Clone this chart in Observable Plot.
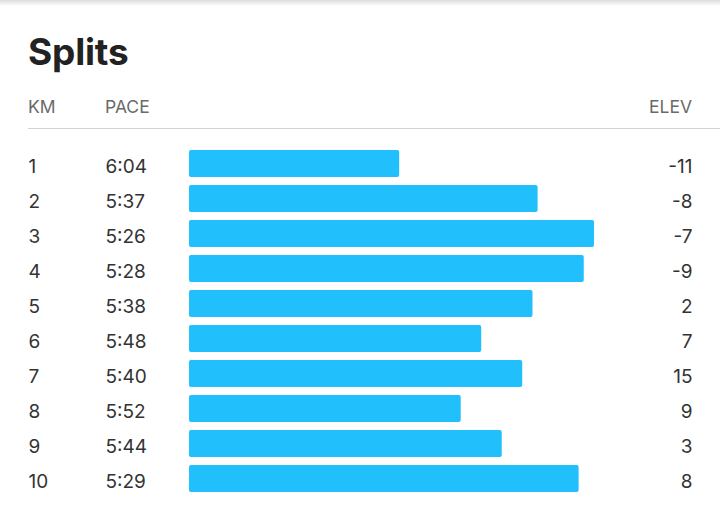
<!DOCTYPE html>
<html>
<head>
<meta charset="utf-8">
<script src="https://cdn.jsdelivr.net/npm/d3@7"></script>
<script src="https://cdn.jsdelivr.net/npm/@observablehq/plot@0.6"></script>
<style>
  html, body { margin: 0; padding: 0; background: #fff; }
  body { width: 720px; height: 526px; overflow: hidden; font-family: Inter, "Noto Sans", sans-serif; }
  #head { position: relative; height: 130px; }
  #shadow { position: absolute; left: 0; top: 0; width: 720px; height: 6px;
            background: linear-gradient(#dcdcdc, rgba(255,255,255,0)); }
  #title { position: absolute; left: 28px; top: 33px; font-size: 37px; line-height: 37px;
           font-weight: 700; color: #222; letter-spacing: -0.2px; }
  .col { position: absolute; top: 98px; font-size: 17.5px; line-height: 17.5px; color: #6a6a6a; }
  #rule { position: absolute; left: 28px; right: 0; top: 128px; height: 1px; background: #d2d2d2; }
  #chart svg { display: block; }
</style>
</head>
<body>
<div id="head">
  <div id="shadow"></div>
  <div id="title">Splits</div>
  <div class="col" style="left:28px">KM</div>
  <div class="col" style="left:105px">PACE</div>
  <div class="col" style="right:28px">ELEV</div>
  <div id="rule"></div>
</div>
<div id="chart"></div>
<script>
const km = [1, 2, 3, 4, 5, 6, 7, 8, 9, 10];
const pace = ["6:04", "5:37", "5:26", "5:28", "5:38", "5:48", "5:40", "5:52", "5:44", "5:29"];
const elev = [-11, -8, -7, -9, 2, 7, 15, 9, 3, 8];

const toSec = p => { const [m, s] = p.split(":").map(Number); return m * 60 + s; };
const rows = km.map((k, i) => ({ km: k, pace: pace[i], sec: toSec(pace[i]), elev: elev[i] }));

const slowest = 405; // bar baseline (pace in seconds) – reference for bar length

const chart = Plot.plot({
  width: 720,
  height: 396,
  marginLeft: 0,
  marginRight: 0,
  marginTop: 0,
  marginBottom: 0,
  style: { fontFamily: "Inter, 'Noto Sans', sans-serif", background: "#fff" },
  x: { domain: [slowest, 326], range: [189, 594], axis: null },
  y: { domain: km, range: [16, 366], paddingInner: 0.23, paddingOuter: 0.115, axis: null },
  marks: [
    Plot.barX(rows, { y: "km", x1: () => slowest, x2: "sec", fill: "#21bffc", rx: 2 }),
    Plot.text(rows, { y: "km", text: d => String(d.km), frameAnchor: "left", dx: 28, dy: 2.5,
                      textAnchor: "start", fontSize: 19, fill: "#333" }),
    Plot.text(rows, { y: "km", text: "pace", frameAnchor: "left", dx: 105, dy: 2.5,
                      textAnchor: "start", fontSize: 19, fill: "#333" }),
    Plot.text(rows, { y: "km", text: d => String(d.elev), frameAnchor: "right", dx: -28, dy: 2.5,
                      textAnchor: "end", fontSize: 19, fill: "#333" })
  ]
});
document.getElementById("chart").appendChild(chart);
</script>
</body>
</html>
